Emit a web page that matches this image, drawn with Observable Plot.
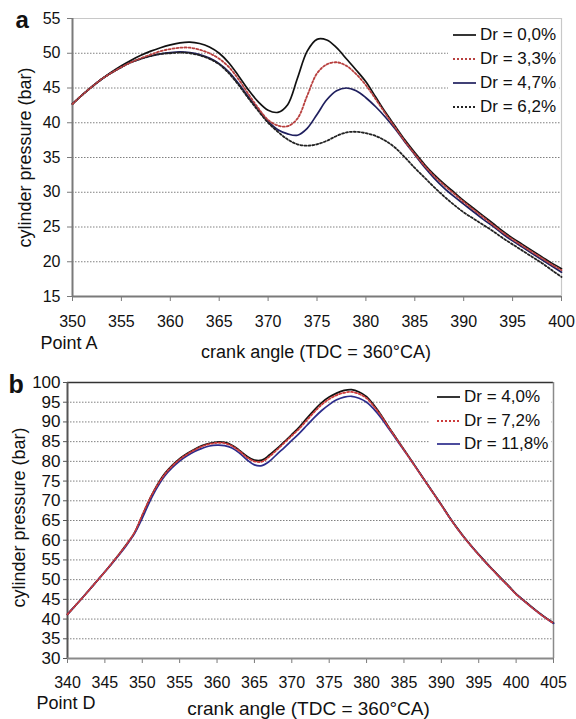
<!DOCTYPE html>
<html>
<head>
<meta charset="utf-8">
<script src="https://cdn.jsdelivr.net/npm/d3@7"></script>
<script src="https://cdn.jsdelivr.net/npm/@observablehq/plot@0.6"></script>
<style>
  body { margin: 0; background: white; }
  #wrap { position: relative; width: 576px; height: 719px; overflow: hidden; font-family: "Liberation Sans", Arial, sans-serif; }
  #wrap svg { display: block; }
  .legend { position: absolute; background: white; color: #111; font-size: 17px; }
  .legend .row { position: absolute; left: 0; display: flex; align-items: center; white-space: nowrap; }
  .legend .row span { margin-left: 4px; }
</style>
</head>
<body>
<div id="wrap">
  <div id="panelA"></div>
  <div id="panelB"></div>
</div>
<script>
// ---------- Panel a data ----------
const anglesA = [350,351,352,353,354,355,356,357,358,359,360,361,362,363,364,365,366,367,368,369,370,371,372,373,374,375,376,377,378,379,380,381,382,383,384,385,386,387,388,389,390,391,392,393,394,395,396,397,398,399,400];
const dr00 = [42.7,44.0,45.2,46.3,47.3,48.2,49.0,49.7,50.3,50.8,51.2,51.5,51.6,51.4,50.9,50.0,48.6,46.7,44.7,43.0,41.8,41.5,42.6,46.4,50.3,52.0,51.9,50.8,49.2,47.6,45.9,43.7,41.5,39.5,37.5,35.7,34.0,32.5,31.2,30.0,28.8,27.7,26.6,25.5,24.4,23.4,22.5,21.6,20.7,19.8,19.0];
const dr33 = [42.7,44.0,45.2,46.3,47.2,48.0,48.7,49.3,49.8,50.3,50.6,50.8,50.8,50.5,50.0,49.2,48.0,46.2,44.1,42.1,40.4,39.6,39.5,40.6,43.9,47.1,48.4,48.7,48.2,47.0,45.4,43.4,41.3,39.3,37.3,35.5,33.8,32.3,31.0,29.8,28.6,27.5,26.4,25.3,24.2,23.2,22.3,21.4,20.5,19.6,18.8];
const dr47 = [42.7,44.0,45.2,46.3,47.2,48.0,48.7,49.2,49.6,49.9,50.1,50.2,50.1,49.8,49.3,48.5,47.3,45.6,43.7,41.9,40.2,39.0,38.4,38.2,39.2,41.2,43.3,44.6,45.0,44.6,43.6,42.3,40.8,39.1,37.2,35.4,33.6,32.0,30.6,29.4,28.3,27.2,26.1,25.1,24.0,23.0,22.1,21.2,20.3,19.4,18.5];
const dr62 = [42.7,44.0,45.2,46.3,47.2,48.0,48.7,49.2,49.6,49.9,50.0,50.1,50.0,49.7,49.2,48.4,47.1,45.4,43.5,41.7,40.0,38.7,37.6,36.9,36.7,36.9,37.4,38.1,38.6,38.7,38.5,38.1,37.4,36.4,35.0,33.5,32.1,30.7,29.4,28.2,27.1,26.2,25.3,24.4,23.4,22.5,21.6,20.7,19.8,18.8,17.8];
const namesA = ["Dr = 0,0%", "Dr = 3,3%", "Dr = 4,7%", "Dr = 6,2%"];
const xTicksA = [350,355,360,365,370,375,380,385,390,395,400];
const yTicksA = [15,20,25,30,35,40,45,50,55];
const gridA = [20,25,30,35,40,45,50];

// ---------- Panel b data ----------
const anglesB = [340,341,342,343,344,345,346,347,348,349,350,351,352,353,354,355,356,357,358,359,360,361,362,363,364,365,366,367,368,369,370,371,372,373,374,375,376,377,378,379,380,381,382,383,384,385,386,387,388,389,390,391,392,393,394,395,396,397,398,399,400,401,402,403,404,405];
const dr40 = [41.2,43.3,45.4,47.6,49.8,52.0,54.3,56.7,59.2,62.0,66.2,70.4,74.0,76.9,79.0,80.7,82.0,83.1,84.0,84.6,84.9,84.8,84.1,82.8,81.3,80.3,80.3,81.6,83.2,85.0,86.8,88.7,90.9,93.0,94.9,96.3,97.3,98.0,98.2,97.6,96.4,94.2,91.6,88.6,85.8,83.0,80.2,77.4,74.6,71.8,69.0,66.1,63.4,60.9,58.6,56.4,54.3,52.3,50.3,48.4,46.4,44.8,43.2,41.7,40.3,39.0];
const dr72 = [41.2,43.3,45.4,47.6,49.8,52.0,54.3,56.7,59.2,62.1,66.4,70.5,73.9,76.7,78.8,80.5,81.8,82.9,83.8,84.4,84.7,84.6,83.9,82.6,81.0,80.0,79.9,81.2,82.9,84.7,86.5,88.3,90.4,92.5,94.4,95.8,96.8,97.4,97.6,97.1,96.0,93.9,91.4,88.5,85.7,82.9,80.1,77.3,74.5,71.7,68.9,66.0,63.3,60.8,58.5,56.3,54.2,52.2,50.2,48.3,46.3,44.7,43.1,41.6,40.2,38.9];
const dr118 = [41.2,43.3,45.4,47.6,49.8,52.0,54.2,56.5,59.0,61.8,65.6,69.8,73.4,76.3,78.4,80.1,81.4,82.5,83.3,83.9,84.1,84.0,83.4,82.1,80.4,79.1,78.9,80.0,81.8,83.5,85.3,87.1,89.1,91.1,92.9,94.4,95.6,96.3,96.5,96.0,95.0,93.2,90.9,88.2,85.5,82.8,80.1,77.3,74.5,71.7,68.9,66.0,63.3,60.8,58.5,56.3,54.2,52.2,50.2,48.3,46.3,44.7,43.1,41.6,40.2,38.9];
const namesB = ["Dr = 4,0%", "Dr = 7,2%", "Dr = 11,8%"];
const xTicksB = [340,345,350,355,360,365,370,375,380,385,390,395,400,405];
const yTicksB = [30,35,40,45,50,55,60,65,70,75,80,85,90,95,100];
const gridB = [35,40,45,50,55,60,65,70,75,80,85,90,95];

// ---------- styles ----------
const stylesA = [
  {stroke: "#111111", dash: null, width: 1.7},
  {stroke: "#b8403f", dash: "2,2", width: 1.8},
  {stroke: "#1f1f5e", dash: null, width: 1.7},
  {stroke: "#222222", dash: "2,2", width: 1.8}
];
const stylesB = [
  {stroke: "#111111", dash: null, width: 1.7},
  {stroke: "#cc3b3b", dash: "2,2", width: 1.8},
  {stroke: "#2c2c8c", dash: null, width: 1.7}
];
const drawOrderA = [0, 2, 3, 1];
const drawOrderB = [0, 2, 1];

function rows(angles, series, names) {
  return series.map((vals, i) => vals.map((v, k) => ({x: angles[k], y: v, s: names[i]})));
}
const rowsA = rows(anglesA, [dr00, dr33, dr47, dr62], namesA);
const rowsB = rows(anglesB, [dr40, dr72, dr118], namesB);

const font = "'Liberation Sans', Arial, sans-serif";

const plotA = Plot.plot({
  width: 576, height: 362,
  marginTop: 18, marginRight: 15, marginBottom: 66, marginLeft: 72,
  style: {fontFamily: font, fontSize: "16px", background: "white", color: "#111"},
  x: {domain: [350, 400]},
  y: {domain: [15, 55]},
  marks: [
    Plot.ruleY(gridA, {stroke: "#808080", strokeWidth: 1, strokeDasharray: "1.5,1.5"}),
    Plot.ruleY([55], {stroke: "#c8c8c8", strokeWidth: 1.2}),
    Plot.ruleX([400], {stroke: "#c8c8c8", strokeWidth: 1.2}),
    Plot.axisX({ticks: xTicksA, tickSize: 5, tickPadding: 14, stroke: "#7a7a7a", fill: "#111", label: null, tickFormat: d => String(d)}),
    Plot.axisY({ticks: yTicksA, tickSize: 5, tickPadding: 7, stroke: "#7a7a7a", fill: "#111", label: null, tickFormat: d => String(d)}),
    Plot.ruleX([350], {stroke: "#7a7a7a", strokeWidth: 2}),
    Plot.ruleY([15], {stroke: "#7a7a7a", strokeWidth: 2}),
    ...drawOrderA.map(i => Plot.line(rowsA[i], {
      x: "x", y: "y", stroke: stylesA[i].stroke, strokeWidth: stylesA[i].width,
      strokeDasharray: stylesA[i].dash, curve: "catmull-rom"
    })),
    Plot.text(["a"], {text: d => d, frameAnchor: "top-left", textAnchor: "start", lineAnchor: "bottom", dx: -57, dy: 9, fontSize: 24, fontWeight: "bold"}),
    Plot.text(["cylinder pressure (bar)"], {text: d => d, frameAnchor: "left", textAnchor: "middle", lineAnchor: "middle", rotate: -90, dx: -47, dy: 0, fontSize: 18}),
    Plot.text(["Point A"], {text: d => d, frameAnchor: "bottom-left", textAnchor: "start", lineAnchor: "bottom", dx: -32, dy: 52, fontSize: 18}),
    Plot.text(["crank angle (TDC = 360°CA)"], {text: d => d, frameAnchor: "bottom", textAnchor: "middle", lineAnchor: "bottom", dx: -1, dy: 61, fontSize: 18})
  ]
});
document.getElementById("panelA").appendChild(plotA);

const plotB = Plot.plot({
  width: 576, height: 357,
  marginTop: 20, marginRight: 23, marginBottom: 61, marginLeft: 67,
  style: {fontFamily: font, fontSize: "16px", background: "white", color: "#111"},
  x: {domain: [340, 405]},
  y: {domain: [30, 100]},
  marks: [
    Plot.ruleY(gridB, {stroke: "#808080", strokeWidth: 1, strokeDasharray: "1.5,1.5"}),
    Plot.ruleY([100], {stroke: "#333", strokeWidth: 1.5}),
    Plot.ruleX([405], {stroke: "#8a8a8a", strokeWidth: 1.5}),
    Plot.axisX({ticks: xTicksB, tickSize: 5, tickPadding: 13, stroke: "#7a7a7a", fill: "#111", label: null, tickFormat: d => String(d)}),
    Plot.axisY({ticks: yTicksB, tickSize: 4, tickPadding: 3, stroke: "#555", fill: "#111", fontSize: 17, label: null, tickFormat: d => String(d)}),
    Plot.ruleX([340], {stroke: "#555", strokeWidth: 2}),
    Plot.ruleY([30], {stroke: "#8a8a8a", strokeWidth: 2}),
    ...drawOrderB.map(i => Plot.line(rowsB[i], {
      x: "x", y: "y", stroke: stylesB[i].stroke, strokeWidth: stylesB[i].width,
      strokeDasharray: stylesB[i].dash, curve: "catmull-rom"
    })),
    Plot.text(["b"], {text: d => d, frameAnchor: "top-left", textAnchor: "start", lineAnchor: "bottom", dx: -59, dy: 10, fontSize: 25, fontWeight: "bold"}),
    Plot.text(["cylinder pressure (bar)"], {text: d => d, frameAnchor: "left", textAnchor: "middle", lineAnchor: "middle", rotate: -90, dx: -48, dy: -3, fontSize: 18}),
    Plot.text(["Point D"], {text: d => d, frameAnchor: "bottom-left", textAnchor: "start", lineAnchor: "bottom", dx: -31, dy: 50, fontSize: 18}),
    Plot.text(["crank angle (TDC = 360°CA)"], {text: d => d, frameAnchor: "bottom", textAnchor: "middle", lineAnchor: "bottom", dx: -2, dy: 56, fontSize: 19})
  ]
});
document.getElementById("panelB").appendChild(plotB);

// ---------- legends (HTML overlays) ----------
function legend(names, styles, box) {
  const div = document.createElement("div");
  div.className = "legend";
  Object.assign(div.style, {left: box.left + "px", top: box.top + "px", width: box.width + "px", height: box.height + "px"});
  names.forEach((n, i) => {
    const row = document.createElement("div");
    row.className = "row";
    row.style.top = (box.rowTop + i * box.rowStep - 10) + "px";
    row.style.left = box.pad + "px";
    row.style.height = "20px";
    const s = styles[i];
    row.innerHTML = `<svg width="${box.swatch}" height="6"><line x1="0" y1="3" x2="${box.swatch}" y2="3" stroke="${s.stroke}" stroke-width="${s.width}" ${s.dash ? `stroke-dasharray="${s.dash}"` : ""}/></svg><span>${n}</span>`;
    div.appendChild(row);
  });
  document.getElementById("wrap").appendChild(div);
}
legend(namesA, stylesA, {left: 448, top: 20, width: 111, height: 98, pad: 5, swatch: 23, rowTop: 15, rowStep: 24});
legend(namesB, stylesB, {left: 430, top: 384, width: 121, height: 72, pad: 7, swatch: 23, rowTop: 13, rowStep: 23.5});
</script>
</body>
</html>
